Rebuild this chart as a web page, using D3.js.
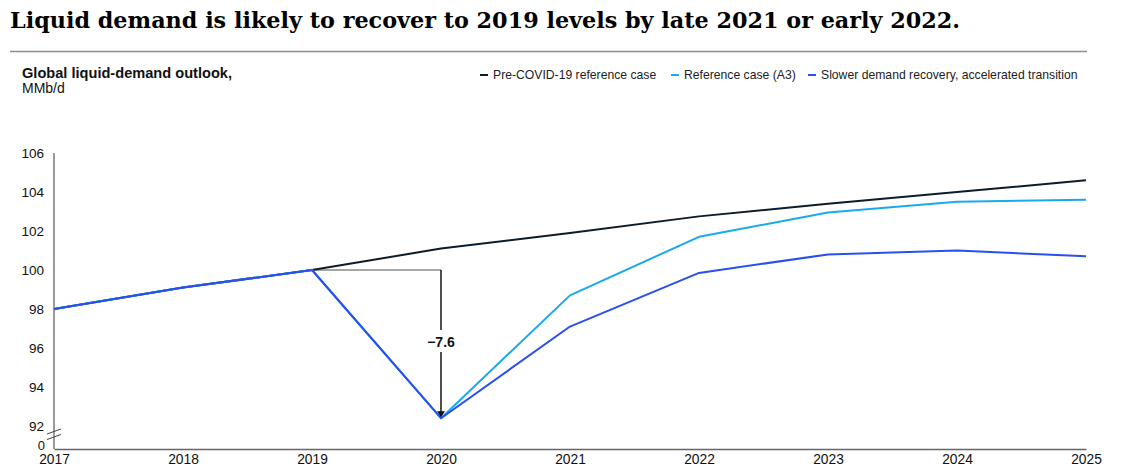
<!DOCTYPE html>
<html>
<head>
<meta charset="utf-8">
<script src="https://cdn.jsdelivr.net/npm/d3@7"></script>
<style>
  body { margin: 0; background: #fff; }
  text { font-family: "Liberation Sans", Arial, sans-serif; }
</style>
</head>
<body>
<svg id="chart" width="1125" height="469"></svg>
<script>
// chart data
var years = [2017, 2018, 2019, 2020, 2021, 2022, 2023, 2024, 2025];
var preCovid = [98.0, 99.1, 100.0, 101.1, 101.9, 102.75, 103.4, 104.0, 104.6];
var refA3 = [98.0, 99.1, 100.0, 92.4, 98.7, 101.7, 102.95, 103.5, 103.6];
var slower = [98.0, 99.1, 100.0, 92.4, 97.1, 99.85, 100.8, 101.0, 100.7];
var yTicks = [92, 94, 96, 98, 100, 102, 104, 106];
var seriesNames = ['Pre-COVID-19 reference case', 'Reference case (A3)', 'Slower demand recovery, accelerated transition'];
var dropLabel = '\u22127.6';

var colors = ['#0b1d2b', '#1aa9f0', '#2a4ff0'];

var svg = d3.select('#chart');

// header
svg.append('text')
    .attr('x', 10).attr('y', 28)
    .style('font-family', '"DejaVu Serif", Georgia, serif')
    .style('font-weight', 'bold')
    .style('font-size', '22.3px')
    .attr('fill', '#000')
    .text('Liquid demand is likely to recover to 2019 levels by late 2021 or early 2022.');

svg.append('line')
    .attr('x1', 10).attr('x2', 1087).attr('y1', 51.5).attr('y2', 51.5)
    .attr('stroke', '#8c8c8c').attr('stroke-width', 1.5);

svg.append('text').attr('x', 22).attr('y', 78)
    .style('font-size', '14.6px').style('font-weight', 'bold').attr('fill', '#111')
    .text('Global liquid-demand outlook,');
svg.append('text').attr('x', 22).attr('y', 93)
    .style('font-size', '14px').attr('fill', '#111')
    .text('MMb/d');

// legend
var legendX = [480, 671, 808];
seriesNames.forEach(function (name, i) {
    var g = svg.append('g').attr('transform', 'translate(' + legendX[i] + ',75)');
    g.append('line').attr('x1', 0).attr('x2', 8).attr('y1', 0).attr('y2', 0)
        .attr('stroke', colors[i]).attr('stroke-width', 2);
    g.append('text').attr('x', 13).attr('y', 4.3)
        .style('font-size', '12.2px').attr('fill', '#222').text(name);
});

// scales
var x = d3.scaleLinear().domain([2017, 2025]).range([54, 1086]);
var y = d3.scaleLinear().domain([92, 106]).range([426, 153]);
var baseY = 449;

// y axis (with break)
var yAxis = svg.append('g').attr('transform', 'translate(54,0)')
    .call(d3.axisLeft(y).tickValues(yTicks).tickSize(0).tickPadding(10));
yAxis.select('.domain').remove();
yAxis.selectAll('text').style('font-size', '13.5px').attr('fill', '#111')
    .style('font-family', '"Liberation Sans", Arial, sans-serif');

svg.append('line').attr('x1', 54).attr('x2', 54).attr('y1', 153).attr('y2', baseY)
    .attr('stroke', '#666').attr('stroke-width', 1.3);
[431.5, 437].forEach(function (by) {
    svg.append('line').attr('x1', 47).attr('x2', 61).attr('y1', by + 2.5).attr('y2', by - 2.5)
        .attr('stroke', '#444').attr('stroke-width', 1);
});
svg.append('text').attr('x', 45).attr('y', baseY + 1).attr('text-anchor', 'end')
    .style('font-size', '13px').attr('fill', '#111').text('0');

// x axis
var xAxis = svg.append('g').attr('transform', 'translate(0,' + baseY + ')')
    .call(d3.axisBottom(x).tickValues(years).tickFormat(d3.format('d')).tickSize(0).tickPadding(5));
xAxis.select('.domain').attr('stroke', '#666').attr('stroke-width', 1.3);
xAxis.selectAll('text').style('font-size', '13.8px').attr('fill', '#111')
    .style('font-family', '"Liberation Sans", Arial, sans-serif');

// drop annotation
var x19 = x(2019), x20 = x(2020);
svg.append('line').attr('x1', x19).attr('x2', x20).attr('y1', y(100)).attr('y2', y(100))
    .attr('stroke', '#888').attr('stroke-width', 1.3);

// lines
var line = d3.line().x(function (d, i) { return x(years[i]); }).y(function (d) { return y(d); });
[preCovid, refA3, slower].forEach(function (s, i) {
    svg.append('path').datum(s).attr('d', line)
        .attr('fill', 'none').attr('stroke', colors[i]).attr('stroke-width', 2)
        .attr('stroke-linejoin', 'round');
});

var labelY = 347;
svg.append('line').attr('x1', x20).attr('x2', x20).attr('y1', y(100)).attr('y2', labelY - 17)
    .attr('stroke', '#222').attr('stroke-width', 1.6);
svg.append('line').attr('x1', x20).attr('x2', x20).attr('y1', labelY + 5).attr('y2', y(92.4) - 5)
    .attr('stroke', '#222').attr('stroke-width', 1.6);
svg.append('path')
    .attr('d', 'M' + (x20 - 4) + ',' + (y(92.4) - 7) + 'L' + (x20 + 4) + ',' + (y(92.4) - 7) + 'L' + x20 + ',' + (y(92.4) - 1) + 'Z')
    .attr('fill', '#111');
svg.append('text').attr('x', x20).attr('y', labelY).attr('text-anchor', 'middle')
    .style('font-size', '14px').style('font-weight', 'bold').attr('fill', '#111')
    .text(dropLabel);
</script>
</body>
</html>
